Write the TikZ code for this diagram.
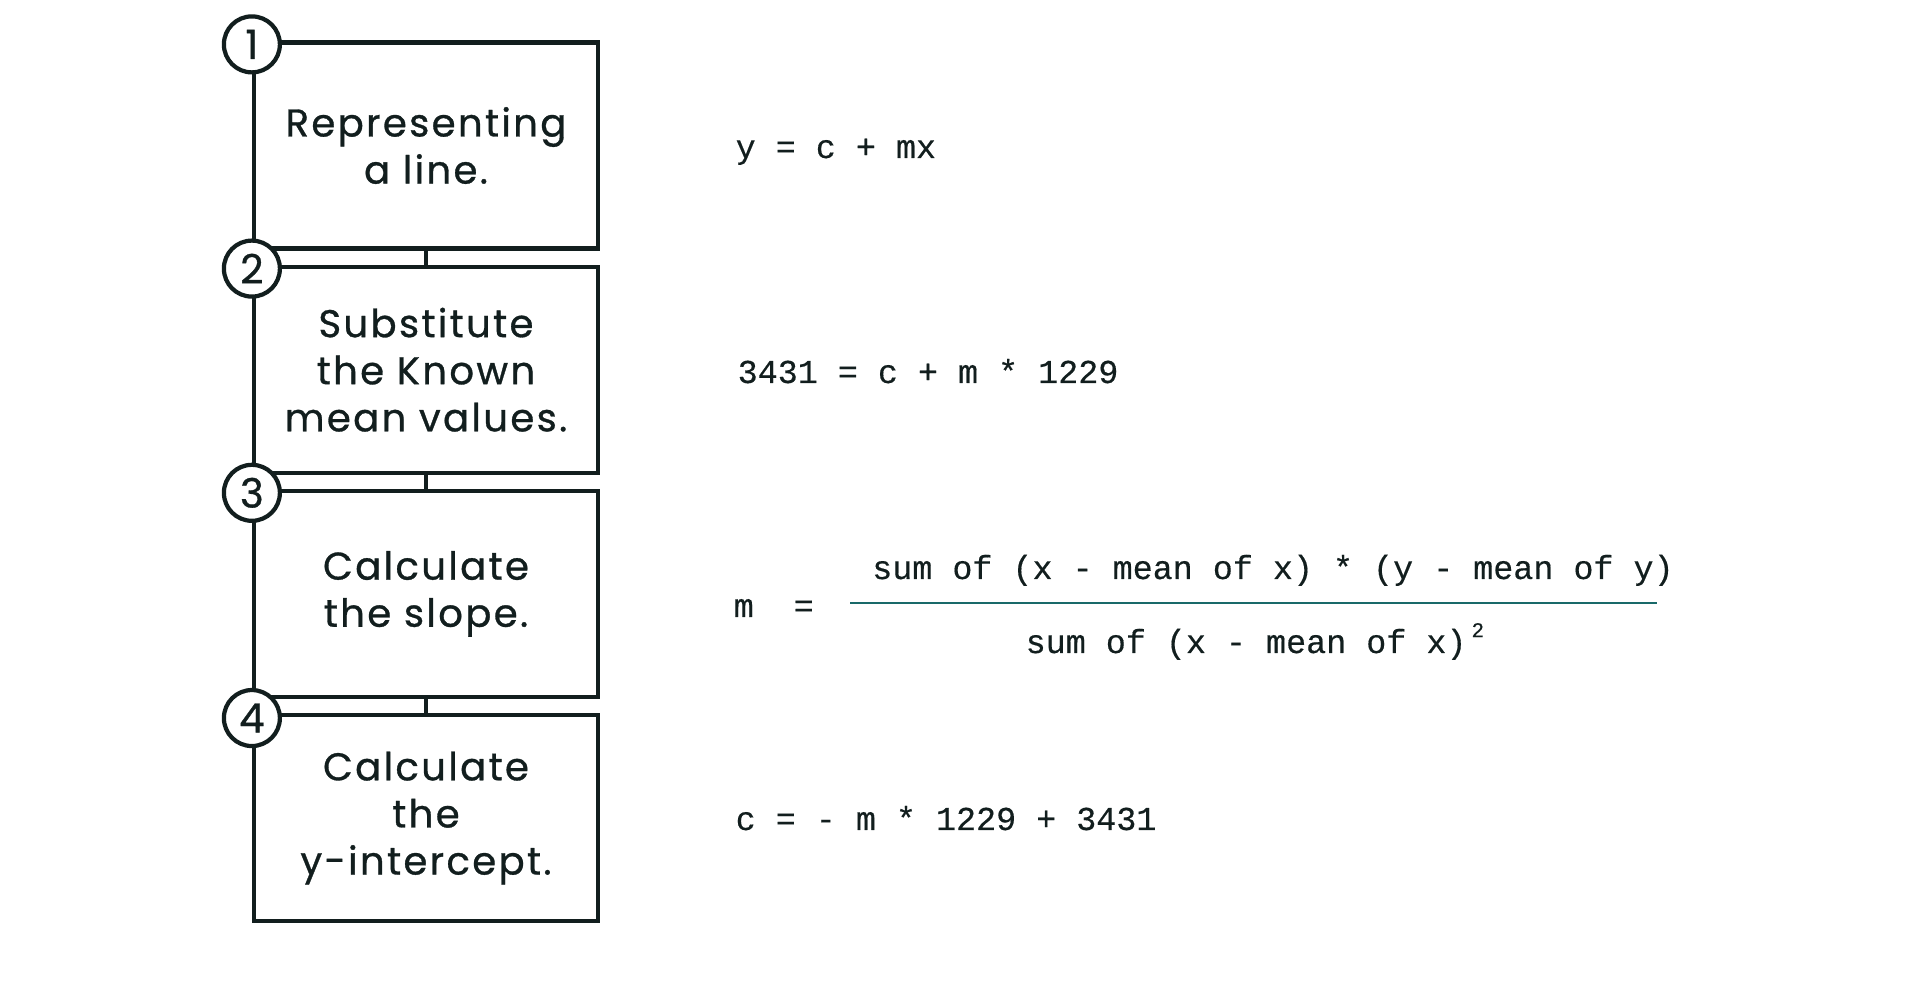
\documentclass[tikz,border=0pt]{standalone}
\usepackage{fontspec}
\usetikzlibrary{positioning}
\newfontfamily\handfont[LetterSpace=6, FakeBold=0.8]{Poppins}
\newfontfamily\eqfont[FakeBold=0.4]{Liberation Mono}
\definecolor{ink}{RGB}{18,30,30}
\definecolor{rulecol}{RGB}{25,105,105}
\tikzset{
  stepbox/.style={draw=ink, line width=1.2pt, minimum width=3.44cm, minimum height=2.06cm, align=center, text=ink, font=\handfont\fontsize{11}{13.4}\selectfont},
  stepnum/.style={draw=ink, line width=1.2pt, circle, fill=white, minimum size=0.56cm, inner sep=0pt, text=ink, font=\handfont\fontsize{11.5}{11.5}\selectfont},
  eq/.style={anchor=base west, inner sep=0pt, text=ink, font=\eqfont\fontsize{9.5}{11}\selectfont}
}
\begin{document}
\begin{tikzpicture}[node distance=0.14cm]
\useasboundingbox (0,0) rectangle (19.16,9.84);
\node[stepbox] (s1) at (4.26,8.385) {Representing\\a line.};
\node[stepbox, below=of s1] (s2) {Substitute\\the Known\\mean values.};
\node[stepbox, below=of s2] (s3) {Calculate\\the slope.};
\node[stepbox, below=of s3] (s4) {Calculate\\the\\y-intercept.};
\draw[ink, line width=1.2pt] (s1.south) -- (s2.north);
\draw[ink, line width=1.2pt] (s2.south) -- (s3.north);
\draw[ink, line width=1.2pt] (s3.south) -- (s4.north);
\node[stepnum] (n1) at ([yshift=-0.04cm]s1.north west) {1};
\node[stepnum] (n2) at ([yshift=-0.04cm]s2.north west) {2};
\node[stepnum] (n3) at ([yshift=-0.04cm]s3.north west) {3};
\node[stepnum] (n4) at ([yshift=-0.05cm]s4.north west) {4};
\node[eq] (eq1) at (7.35,8.26) {y = c + mx};
\node[eq] (eq2) at (7.37,6.01) {3431 = c + m * 1229};
\node[eq] (mlab) at (7.33,3.67) {m~~=};
\node[eq, anchor=base] (num) at (12.73,4.05) {sum of (x - mean of x) * (y - mean of y)};
\node[eq] (den) at (10.25,3.31) {sum of (x - mean of x)\hspace{0.05cm}\raisebox{4.5pt}{\fontsize{6}{6}\selectfont 2}};
\draw[rulecol, line width=0.8pt] (8.50,3.81) -- (16.57,3.81);
\node[eq] (eq4) at (7.35,1.54) {c = - m * 1229 + 3431};
\end{tikzpicture}
\end{document}
